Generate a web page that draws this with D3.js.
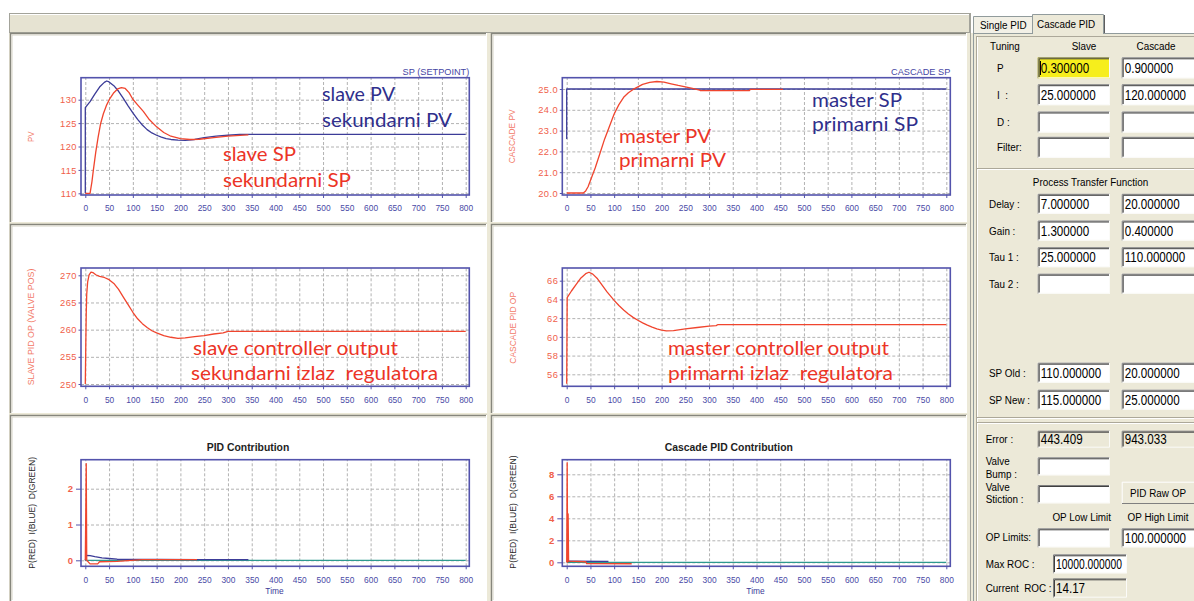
<!DOCTYPE html>
<html>
<head>
<meta charset="utf-8">
<script src="https://cdn.jsdelivr.net/npm/d3@7"></script>
<style>
body { margin: 0; background: #fff; }
svg { display: block; }
text { white-space: pre; }
</style>
</head>
<body>
<svg id="screen" width="1194" height="601"></svg>
<script>
// ---- data ----
var xTicks = d3.range(0, 801, 50);

// slave loop (top left)
var slavePV = [[0,110],[0,128.3],[10,129.6],[20,131.2],[30,132.7],[40,133.7],[45,134],[50,133.8],[60,133],[70,131.8],[80,130.3],[90,128.7],[100,127.2],[110,125.8],[120,124.6],[130,123.6],[140,122.9],[150,122.4],[160,122],[170,121.7],[180,121.5],[195,121.35],[210,121.3],[230,121.5],[250,121.9],[275,122.2],[300,122.4],[325,122.6],[345,122.6],[800,122.6]];
var slaveSP = [[0,110],[10,110],[14,112.5],[17,115],[22,118.8],[27,122],[32,124.8],[38,127],[45,128.9],[52,130.3],[60,131.5],[68,132.3],[76,132.6],[84,132.4],[92,131.5],[100,130.1],[110,128.9],[122,127.5],[135,125.7],[150,124.2],[165,123],[180,122.2],[200,121.7],[220,121.5],[240,121.55],[270,121.9],[300,122.2],[343,122.5]];

// master loop (top right)
var masterSP = [[0,22.6],[0,25],[800,25]];
var masterPV = [[0,20],[35,20],[40,20.1],[45,20.3],[50,20.6],[55,20.9],[60,21.2],[70,21.9],[80,22.6],[90,23.2],[100,23.8],[110,24.25],[120,24.6],[130,24.82],[140,24.98],[150,25.1],[160,25.22],[175,25.32],[190,25.36],[205,25.33],[220,25.25],[235,25.17],[250,25.1],[265,25.03],[280,24.95],[282,24.92],[385,24.92],[387,24.98],[456,24.98]];

// controller outputs (middle row)
var slaveOP = [[0,250],[1,257],[2,263],[3,266.5],[5,268.8],[8,270.1],[12,270.6],[16,270.5],[22,270.1],[30,269.8],[40,269.6],[50,269.2],[60,268.5],[70,267.4],[80,266],[90,264.6],[100,263.2],[110,262],[120,261.1],[130,260.4],[140,259.8],[150,259.4],[165,258.9],[180,258.6],[195,258.4],[210,258.5],[230,258.7],[250,258.9],[270,259.2],[290,259.4],[300,259.7],[800,259.7]];
var masterOP = [[0,55],[1,64.2],[10,64.9],[20,65.6],[30,66.3],[40,66.75],[47,66.9],[55,66.7],[65,66.2],[75,65.5],[85,64.8],[100,63.9],[110,63.35],[120,62.88],[130,62.45],[140,62.08],[150,61.77],[160,61.5],[170,61.25],[180,61.04],[190,60.86],[200,60.72],[210,60.64],[225,60.66],[250,60.85],[275,61],[300,61.15],[315,61.2],[318,61.3],[800,61.3]];

// PID contributions (bottom row)
var slaveP = [[0,0],[1,1.35],[2,2.7],[3,0],[10,-0.1],[26,-0.1],[30,-0.04],[67,-0.03],[120,0.02],[235,0.02]];
var slaveI = [[0,0],[2,0.14],[10,0.13],[20,0.1],[35,0.07],[50,0.05],[67,0.03],[240,0.02],[343,0.02]];
var slaveD = [[0,0],[800,0]];
var masterP = [[0,0],[1,9.05],[2,0],[3,4.4],[4,0.1],[40,0.05],[42,-0.12],[137,-0.13]];
var masterI = [[0,0],[3,0.1],[88,0.08]];
var masterD = [[0,0],[800,0]];

// right hand panel
var tuningRows = [["P","0.300000","0.900000"],["I  :","25.000000","120.000000"],["D :","",""],["Filter:","",""]];
var processRows = [["Delay :","7.000000","20.000000"],["Gain :","1.300000","0.400000"],["Tau 1 :","25.000000","110.000000"],["Tau 2 :","",""]];
var setpointRows = [["SP Old :","110.000000","20.000000"],["SP New :","115.000000","25.000000"]];
var errorValues = ["443.409","943.033"];
var opHighLimit = "100.000000";
var maxRoc = "10000.000000";
var currentRoc = "14.17";

// ---- styles ----
var FONT = "'Liberation Sans', Arial, sans-serif";
var RED = "#f0452e", BLUE = "#3c3c98", TEAL = "#2e9a8e";
var FRAME = "#5353ac", TICKBLUE = "#4a4aa6", YRED = "#f0604a";
var BEIGE = "#ece9d8";

var svg = d3.select("#screen").attr("font-family", FONT);

function txt(g, x, y, s, o) {
	o = o || {};
	var t = g.append("text")
		.attr("transform", "translate(" + x + "," + y + ") scale(" + (o.sx || 1) + ",1)" + (o.rot ? " rotate(" + o.rot + ")" : ""))
		.attr("text-anchor", o.anchor || "start")
		.attr("font-size", o.size || 11.5)
		.attr("font-weight", o.weight || "normal")
		.attr("fill", o.fill || "#000")
		.text(s);
	if (o.len) t.attr("textLength", o.len).attr("lengthAdjust", "spacingAndGlyphs");
	if (o.family) t.attr("font-family", o.family);
	return t;
}

// ---- window chrome on the left ----
svg.append("rect").attr("width", 1194).attr("height", 601).attr("fill", "#fff");
svg.append("rect").attr("x", 9).attr("y", 33).attr("width", 961).attr("height", 568).attr("fill", BEIGE);
svg.append("rect").attr("x", 9.5).attr("y", 13.5).attr("width", 960).attr("height", 19)
	.attr("fill", "#e6e3d2").attr("stroke", "#a3a39a");
svg.append("line").attr("x1", 10).attr("x2", 969).attr("y1", 14.5).attr("y2", 14.5).attr("stroke", "#fff");

var panels = [[10,33,477,189],[491,33,476,189],[10,224,477,189],[491,224,476,189],[10,415,477,186],[491,415,476,186]];
panels.forEach(function(p) {
	svg.append("rect").attr("x", p[0]).attr("y", p[1]).attr("width", p[2]).attr("height", p[3]).attr("fill", "#fff");
	svg.append("path").attr("d", "M" + (p[0] + 0.5) + "," + (p[1] + p[3]) + "V" + (p[1] + 0.5) + "H" + (p[0] + p[2]))
		.attr("fill", "none").attr("stroke", "#86867c").attr("stroke-width", 1.5);
	svg.append("path").attr("d", "M" + (p[0] + 2) + "," + (p[1] + p[3] - 1) + "V" + (p[1] + 2) + "H" + (p[0] + p[2] - 1))
		.attr("fill", "none").attr("stroke", "#d6d3c6");
	svg.append("path").attr("d", "M" + (p[0] + p[2] - 0.5) + "," + p[1] + "V" + (p[1] + p[3]))
		.attr("fill", "none").attr("stroke", "#fff");
});

// ---- charts ----
var charts = [
	{ left: 81, right: 469.3, top: 77.7, bottom: 195, x0: 85.3, x1: 465.7,
	  yRef: [110,130], yPix: [193.3,99.7], yTicks: [110,115,120,125,130], fmt: d3.format("d"),
	  series: [[slavePV, BLUE], [slaveSP, RED]],
	  corner: "SP (SETPOINT)", ylab: "PV", ylabX: 30.8, ylabY: 136.7, ylabLen: 10.5,
	  notes: [["slave PV", BLUE, 322, 100.7, 73], ["sekundarni PV", BLUE, 322, 126.7, 130],
	          ["slave SP", RED, 223, 160.7, 73], ["sekundarni SP", RED, 223, 186.7, 128]] },
	{ left: 562.3, right: 950.3, top: 77.7, bottom: 195, x0: 566.7, x1: 946.3,
	  yRef: [20,25], yPix: [193,89], yTicks: [20,21,22,23,24,25], fmt: d3.format(".1f"),
	  series: [[masterSP, BLUE], [masterPV, RED]],
	  corner: "CASCADE SP", ylab: "CASCADE PV", ylabX: 512.3, ylabY: 136.3, ylabLen: 54,
	  notes: [["master SP", BLUE, 812, 107, 90], ["primarni SP", BLUE, 812, 130.5, 106],
	          ["master PV", RED, 619, 143.3, 92], ["primarni PV", RED, 619, 166.7, 107]] },
	{ left: 81, right: 469.3, top: 268, bottom: 386.3, x0: 85.3, x1: 465.7,
	  yRef: [250,270], yPix: [384,275.3], yTicks: [250,255,260,265,270], fmt: d3.format("d"),
	  series: [[slaveOP, RED]],
	  ylab: "SLAVE PID OP (VALVE POS)", ylabX: 31.2, ylabY: 327, ylabLen: 116.7,
	  notes: [["slave controller output", RED, 193, 354.7, 205], ["sekundarni izlaz  regulatora", RED, 191, 380.3, 247]] },
	{ left: 562.3, right: 950.3, top: 268, bottom: 386.3, x0: 566.7, x1: 946.3,
	  yRef: [56,66], yPix: [374.3,280.7], yTicks: [56,58,60,62,64,66], fmt: d3.format("d"),
	  series: [[masterOP, RED]],
	  ylab: "CASCADE PID OP", ylabX: 512.5, ylabY: 327.8, ylabLen: 71.7,
	  notes: [["master controller output", RED, 668, 355.3, 221], ["primarni izlaz  regulatora", RED, 668, 380.3, 225]] },
	{ left: 81, right: 469.3, top: 459.7, bottom: 566.3, x0: 85.3, x1: 465.7,
	  yRef: [0,2], yPix: [560.3,488.7], yTicks: [0,1,2], fmt: d3.format("d"), bold: true,
	  series: [[slaveD, TEAL], [slaveI, BLUE], [slaveP, RED]],
	  title: "PID Contribution", titleX: 248, time: 274.5,
	  ylab: "P(RED)  I(BLUE)  D(GREEN)", ylabX: 31.7, ylabY: 512.8, ylabLen: 111.7, ylabDark: true, notes: [] },
	{ left: 562.3, right: 950.3, top: 459.7, bottom: 566.3, x0: 566.7, x1: 946.3,
	  yRef: [0,8], yPix: [562.3,474.3], yTicks: [0,2,4,6,8], fmt: d3.format("d"), bold: true,
	  series: [[masterD, TEAL], [masterI, BLUE], [masterP, RED]],
	  title: "Cascade PID Contribution", titleX: 728.8, time: 755.5,
	  ylab: "P(RED)  I(BLUE)  D(GREEN)", ylabX: 512.5, ylabY: 512, ylabLen: 113.3, ylabDark: true, notes: [] }
];

charts.forEach(function(c) {
	var g = svg.append("g");
	var x = d3.scaleLinear().domain([0, 800]).range([c.x0, c.x1]);
	var y = d3.scaleLinear().domain(c.yRef).range(c.yPix);
	var h = c.bottom - c.top, w = c.right - c.left;

	// dashed grid
	var gx = g.append("g").attr("transform", "translate(0," + c.bottom + ")")
		.call(d3.axisBottom(x).tickValues(xTicks).tickSize(-h).tickFormat(""));
	gx.select(".domain").remove();
	gx.selectAll("line").attr("stroke", "#b2b2b2").attr("stroke-dasharray", "3,2");
	var gy = g.append("g").attr("transform", "translate(" + c.left + ",0)")
		.call(d3.axisLeft(y).tickValues(c.yTicks).tickSize(-w).tickFormat(""));
	gy.select(".domain").remove();
	gy.selectAll("line").attr("stroke", "#b2b2b2").attr("stroke-dasharray", "3,2");

	// curves
	var line = d3.line().x(function(d) { return x(d[0]); }).y(function(d) { return y(d[1]); });
	c.series.forEach(function(s) {
		g.append("path").datum(s[0]).attr("d", line)
			.attr("fill", "none").attr("stroke", s[1]).attr("stroke-width", 1.3).attr("stroke-linejoin", "round");
	});

	// frame
	g.append("rect").attr("x", c.left).attr("y", c.top).attr("width", w).attr("height", h)
		.attr("fill", "none").attr("stroke", FRAME).attr("stroke-width", 1.6);

	// x axis
	var xa = g.append("g").attr("transform", "translate(0," + c.bottom + ")")
		.call(d3.axisBottom(x).tickValues(xTicks).tickSize(3));
	xa.attr("font-family", FONT).attr("font-size", 8.4);
	xa.select(".domain").remove();
	xa.selectAll("line").attr("stroke", FRAME);
	xa.selectAll("text").attr("fill", TICKBLUE).attr("y", 16.3).attr("dy", 0);

	// y axis
	var ya = g.append("g").attr("transform", "translate(" + c.left + ",0)")
		.call(d3.axisLeft(y).tickValues(c.yTicks).tickFormat(c.fmt).tickSize(c.bold ? 5 : 2.5).tickPadding(c.bold ? 3 : 1.5));
	ya.attr("font-family", FONT).attr("font-size", c.bold ? 9.5 : 9.3);
	ya.select(".domain").remove();
	ya.selectAll("line").attr("stroke", FRAME);
	ya.selectAll("text").attr("fill", YRED).attr("font-weight", c.bold ? "bold" : "normal")
		.attr("letter-spacing", c.bold ? 0 : 0.5).attr("dy", "0.34em");

	// labels
	if (c.corner) txt(g, c.right, 74.6, c.corner, { anchor: "end", size: 9.2, fill: "#4646a4" });
	txt(g, c.ylabX + 3, c.ylabY, c.ylab, { anchor: "middle", size: 8.5, rot: -90, len: c.ylabLen,
		fill: c.ylabDark ? "#2a2a2a" : "#f27a68" });
	if (c.title) {
		txt(g, c.titleX, 451.3, c.title, { anchor: "middle", size: 10.4, weight: "bold", fill: "#1e1e1e" });
		txt(g, c.time, 593.5, "Time", { anchor: "middle", size: 8.4, fill: "#3c3c9a" });
	}
	c.notes.forEach(function(n) {
		txt(g, n[2], n[3], n[0], { size: 20, fill: n[1] === RED ? "#ec3426" : "#2f2f8c", len: n[4], family: "Lato, 'Open Sans', sans-serif" });
	});
});

// ---- right hand control panel ----
var rp = svg.append("g");
rp.append("rect").attr("x", 970).attr("y", 33).attr("width", 224).attr("height", 568).attr("fill", BEIGE);
rp.append("line").attr("x1", 970.5).attr("x2", 970.5).attr("y1", 13).attr("y2", 601).attr("stroke", "#a3a39a");
rp.append("line").attr("x1", 973.5).attr("x2", 973.5).attr("y1", 33).attr("y2", 601).attr("stroke", "#919b9c");
rp.append("line").attr("x1", 976.5).attr("x2", 976.5).attr("y1", 36).attr("y2", 601).attr("stroke", "#aca899");
rp.append("line").attr("x1", 977.5).attr("x2", 977.5).attr("y1", 36).attr("y2", 601).attr("stroke", "#fff");
rp.append("line").attr("x1", 973).attr("x2", 1194).attr("y1", 33.5).attr("y2", 33.5).attr("stroke", "#919b9c");
rp.append("line").attr("x1", 977).attr("x2", 1194).attr("y1", 36.5).attr("y2", 36.5).attr("stroke", "#aca899");
[168, 417, 422].forEach(function(yy) {
	rp.append("line").attr("x1", 977).attr("x2", 1194).attr("y1", yy + 0.5).attr("y2", yy + 0.5).attr("stroke", "#aca899");
	rp.append("line").attr("x1", 977).attr("x2", 1194).attr("y1", yy + 1.5).attr("y2", yy + 1.5).attr("stroke", "#fff");
});

// tabs
rp.append("path").attr("d", "M973.5,33V16.5H1032.5V33").attr("fill", "#f2f0e6").attr("stroke", "#919b9c");
rp.append("path").attr("d", "M1032.5,34V14.5H1103.5V34").attr("fill", BEIGE).attr("stroke", "#919b9c");
rp.append("line").attr("x1", 1104.5).attr("x2", 1104.5).attr("y1", 15).attr("y2", 33).attr("stroke", "#5e5e5e");
rp.append("line").attr("x1", 1033).attr("x2", 1103).attr("y1", 33.5).attr("y2", 33.5).attr("stroke", BEIGE);
var LAB = { size: 11.5, sx: 0.86 };
txt(rp, 980, 28.8, "Single PID", LAB);
txt(rp, 1037, 27.6, "Cascade PID", LAB);

function field(x, y, w, h, val, fill, len) {
	rp.append("rect").attr("x", x).attr("y", y).attr("width", w).attr("height", h).attr("fill", fill || "#fff");
	rp.append("path").attr("d", "M" + (x + 0.5) + "," + (y + h) + "V" + (y + 0.5) + "H" + (x + w))
		.attr("fill", "none").attr("stroke", "#7f7f7f");
	rp.append("path").attr("d", "M" + (x + 1.5) + "," + (y + h - 1) + "V" + (y + 1.5) + "H" + (x + w - 1))
		.attr("fill", "none").attr("stroke", "#404040");
	rp.append("path").attr("d", "M" + (x + 0.5) + "," + (y + h - 0.5) + "H" + (x + w - 0.5) + "V" + y)
		.attr("fill", "none").attr("stroke", "#fbfbf8");
	if (val) txt(rp, x + 3, y + h / 2 + 5, val, { size: 14, sx: len ? 1 : 0.83, len: len });
}

txt(rp, 990, 49.7, "Tuning", LAB);
txt(rp, 1084, 49.7, "Slave", Object.assign({ anchor: "middle" }, LAB));
txt(rp, 1156, 49.7, "Cascade", Object.assign({ anchor: "middle" }, LAB));

var tuneY = [67.8, 94.7, 122, 147.3];
tuningRows.forEach(function(r, i) {
	txt(rp, 997, tuneY[i] + 4, r[0], LAB);
	field(1037.7, tuneY[i] - 10.5, 72.3, 21, r[1], i === 0 ? "#f6ee1c" : null);
	field(1121.7, tuneY[i] - 10.5, 74, 21, r[2]);
});
rp.append("line").attr("x1", 1040.5).attr("x2", 1040.5).attr("y1", 61).attr("y2", 75).attr("stroke", "#000");

txt(rp, 1090.5, 185.7, "Process Transfer Function", Object.assign({ anchor: "middle" }, LAB));
var procY = [203.8, 230.5, 257.2, 283.7];
processRows.forEach(function(r, i) {
	txt(rp, 989, procY[i] + 4, r[0], LAB);
	field(1037.7, procY[i] - 10, 72.3, 20, r[1]);
	field(1121.7, procY[i] - 10, 74, 20, r[2]);
});
var spY = [372.7, 399.7];
setpointRows.forEach(function(r, i) {
	txt(rp, 989, spY[i] + 4, r[0], LAB);
	field(1037.7, spY[i] - 10, 72.3, 20, r[1]);
	field(1121.7, spY[i] - 10, 74, 20, r[2]);
});

txt(rp, 985.7, 443.3, "Error :", LAB);
field(1037.7, 430.7, 72.3, 17, errorValues[0], BEIGE);
field(1121.7, 430.7, 74, 17, errorValues[1], BEIGE);
txt(rp, 985.7, 465, "Valve", LAB);
txt(rp, 985.7, 478, "Bump :", LAB);
field(1037.7, 457.3, 72.3, 18);
txt(rp, 985.7, 490.7, "Valve", LAB);
txt(rp, 985.7, 503.3, "Stiction :", LAB);
field(1037.7, 485, 72.3, 18.3);

// button
rp.append("rect").attr("x", 1121.7).attr("y", 481.7).attr("width", 74).attr("height", 22.3).attr("fill", BEIGE);
rp.append("path").attr("d", "M1122.2,504V482.2H1194").attr("fill", "none").attr("stroke", "#fff");
rp.append("path").attr("d", "M1122,503.5H1194").attr("fill", "none").attr("stroke", "#7f7f7f");
txt(rp, 1158, 497, "PID Raw OP", Object.assign({ anchor: "middle" }, LAB));

txt(rp, 1081.7, 520.7, "OP Low Limit", Object.assign({ anchor: "middle" }, LAB));
txt(rp, 1158, 520.7, "OP High Limit", Object.assign({ anchor: "middle" }, LAB));
txt(rp, 985.7, 541.3, "OP Limits:", LAB);
field(1037.7, 528.3, 72.3, 19);
field(1121.7, 528.3, 74, 19, opHighLimit);
txt(rp, 985.7, 568.3, "Max ROC :", LAB);
field(1053, 554.3, 74, 19, maxRoc, null, 66);
txt(rp, 985.7, 592.3, "Current  ROC :", LAB);
field(1053, 578.3, 74, 19.4, currentRoc, BEIGE);
</script>
</body>
</html>
